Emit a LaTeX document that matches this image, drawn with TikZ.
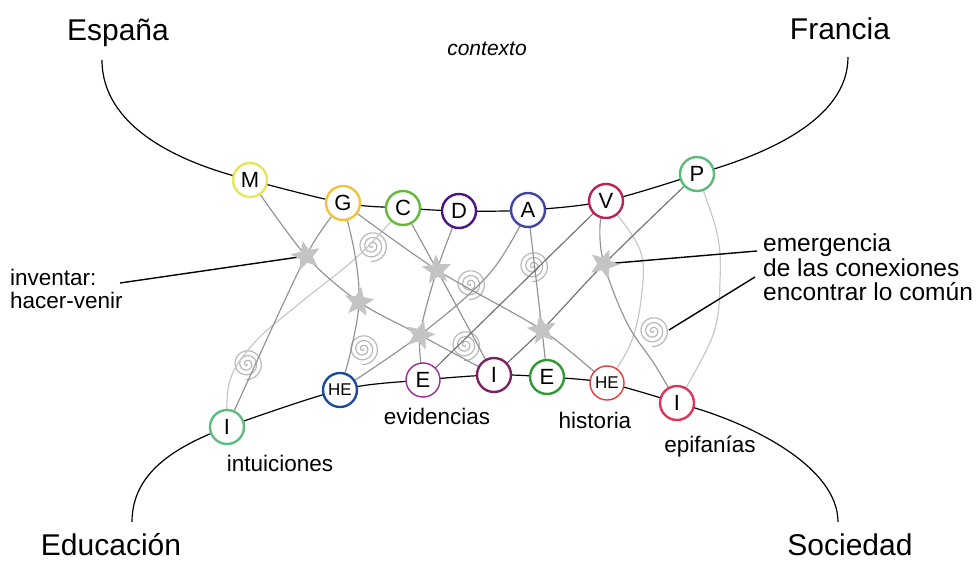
\documentclass[tikz,border=0pt]{standalone}
\usepackage{fontspec}
\setmainfont{Liberation Sans}
\usetikzlibrary{shapes.geometric}
\pgfdeclarelayer{bg}
\pgfsetlayers{bg,main}
\definecolor{cM}{HTML}{E6E65A}
\definecolor{cG}{HTML}{F2C23C}
\definecolor{cC}{HTML}{66B83A}
\definecolor{cD}{HTML}{4A1486}
\definecolor{cA}{HTML}{4444A4}
\definecolor{cV}{HTML}{B82458}
\definecolor{cP}{HTML}{5CBA7A}
\definecolor{cIa}{HTML}{5FBC82}
\definecolor{cHEa}{HTML}{1C4A9C}
\definecolor{cEa}{HTML}{9A2C9A}
\definecolor{cIb}{HTML}{7C2262}
\definecolor{cEb}{HTML}{2F9A32}
\definecolor{cHEb}{HTML}{E53A3A}
\definecolor{cIc}{HTML}{E0345C}
\definecolor{linkgray}{HTML}{929292}
\definecolor{darklink}{HTML}{727272}
\definecolor{faintgray}{HTML}{C6C6C6}
\definecolor{stargray}{HTML}{C4C4C4}
\definecolor{spiralgray}{HTML}{B8B8B8}
\begin{document}
\begin{tikzpicture}[x=1pt,y=-1pt,
  circ/.style={circle, draw, line width=2.4pt, fill=white, minimum size=34pt, inner sep=0pt, font=\fontsize{22}{22}\selectfont},
  circthin/.style={circ, line width=1.4pt},
  hetext/.style={font=\fontsize{17}{17}\selectfont},
  starnode/.style={star, star points=5, star point ratio=2.3, fill=stargray, draw=none, minimum size=31pt, inner sep=0pt},
  link/.style={draw=linkgray, line width=1.15pt},
  darkline/.style={draw=darklink, line width=1.15pt},
  faint/.style={draw=faintgray, line width=1.15pt},
  arcline/.style={draw=black, line width=1.2pt},
  ptr/.style={draw=black, line width=1.4pt},
  spiralline/.style={draw=spiralgray, line width=1.2pt},
  lbl/.style={font=\fontsize{22.5}{23}\selectfont, inner sep=0pt},
  rlbl/.style={font=\fontsize{24.5}{24.5}\selectfont, inner sep=0pt},
  big/.style={font=\fontsize{30}{30}\selectfont, inner sep=0pt},
]
\useasboundingbox (0,0) rectangle (978,562);

% coordinates
\coordinate (esp) at (102,60);
\coordinate (fra) at (848,57);
\coordinate (edu) at (132,522);
\coordinate (soc) at (838,522);
\coordinate (ptrA) at (120,283);
\coordinate (ptrB) at (757,251);
\coordinate (ptrC) at (755,277);
\coordinate (sp1) at (372,246);
\coordinate (sp2) at (470,284);
\coordinate (sp3) at (533,266);
\coordinate (sp4) at (363,349);
\coordinate (sp5) at (465,345);
\coordinate (sp6) at (247,364);
\coordinate (sp7) at (653,331);
\coordinate (sp7e) at (669,330);

% top nodes
\node[circ, draw=cM] (M) at (250,180) {M};
\node[circ, draw=cG] (G) at (343,203) {G};
\node[circ, draw=cC] (C) at (403,208) {C};
\node[circ, draw=cD] (D) at (459,211) {D};
\node[circ, draw=cA] (A) at (528,210) {A};
\node[circ, draw=cV] (V) at (606,201) {V};
\node[circ, draw=cP] (P) at (697,174) {P};
% bottom nodes
\node[circ, draw=cIa] (Ia) at (227,427) {I};
\node[circ, draw=cHEa, hetext] (HEa) at (340,390) {HE};
\node[circthin, draw=cEa] (Ea) at (423,380) {E};
\node[circ, draw=cIb] (Ib) at (494,375) {I};
\node[circ, draw=cEb] (Eb) at (547,377) {E};
\node[circthin, draw=cHEb, hetext] (HEb) at (607,383) {HE};
\node[circ, draw=cIc] (Ic) at (677,403) {I};

% stars
\node[starnode, rotate=12] (S1) at (306,256) {};
\node[starnode, rotate=-8] (S2) at (359,302) {};
\node[starnode, rotate=5] (S3) at (437,270) {};
\node[starnode, rotate=-15] (S4) at (420,335) {};
\node[starnode, rotate=10] (S5) at (542,330) {};
\node[starnode, rotate=-20] (S6) at (604,264) {};

\begin{pgfonlayer}{bg}
  % spirals
  \foreach \p in {sp1,sp2,sp3,sp4,sp5,sp6,sp7} {
    \draw[spiralline, shift={(\p)}] plot[domain=0.3:20.5, samples=170, smooth] ({0.76*\x*cos(\x r)}, {0.76*\x*sin(\x r)});
  }
  % faint curves
  \draw[faint] plot[smooth, tension=0.6] coordinates {(C.center) (357,257) (300,303) (255,342) (230,380) (Ia.center)};
  \draw[faint] plot[smooth, tension=0.6] coordinates {(V.center) (640,250) (641,300) (630,345) (HEb.center)};
  \draw[faint] plot[smooth, tension=0.6] coordinates {(P.center) (717,233) (720,280) (713,335) (Ic.center)};
  % gray links
  \draw[link] plot[smooth, tension=0.5] coordinates {(M.center) (S1.center) (S2.center) (S4.center) (Ib.center)};
  \draw[link] plot[smooth, tension=0.5] coordinates {(G.center) (S1.center) (Ia.center)};
  \draw[link] plot[smooth, tension=0.6] coordinates {(G.center) (355,255) (S2.center) (351,350) (HEa.center)};
  \draw[link] plot[smooth, tension=0.5] coordinates {(G.center) (S3.center) (S5.center) (HEb.center)};
  \draw[link] plot[smooth, tension=0.5] coordinates {(C.center) (S3.center) (Ib.center)};
  \draw[link] plot[smooth, tension=0.5] coordinates {(D.center) (S3.center) (S4.center) (Ea.center)};
  \draw[link] plot[smooth, tension=0.6] coordinates {(HEa.center) (S4.center) (490,273) (A.center)};
  \draw[link] plot[smooth, tension=0.5] coordinates {(A.center) (S5.center) (Eb.center)};
  \draw[link] plot[smooth, tension=0.6] coordinates {(V.center) (600,225) (S6.center) (627,323) (655,365) (Ic.center)};
  \draw[darkline] (Ea.center) -- (V.center);
  \draw[darkline] plot[smooth, tension=0.5] coordinates {(Ib.center) (S5.center) (S6.center) (P.center)};
  % black arcs
  \draw[arcline] (esp) .. controls (102,125) and (175,162) .. (M.center);
  \draw[arcline] plot[smooth, tension=0.55] coordinates {(M.center) (G.center) (C.center) (D.center) (A.center) (V.center) (P.center)};
  \draw[arcline] (P.center) .. controls (765,155) and (848,120) .. (fra);
  \draw[arcline] (edu) .. controls (132,470) and (180,445) .. (Ia.center);
  \draw[arcline] plot[smooth, tension=0.55] coordinates {(Ia.center) (HEa.center) (Ea.center) (Ib.center) (Eb.center) (HEb.center) (Ic.center)};
  \draw[arcline] (Ic.center) .. controls (745,420) and (838,465) .. (soc);
  % pointers
  \draw[ptr] (ptrA) -- (S1.center);
  \draw[ptr] (ptrB) -- (S6.center);
  \draw[ptr] (ptrC) -- (sp7e);
\end{pgfonlayer}

% texts
\node[big, anchor=base] (tEsp) at (118,40) {España};
\node[big, anchor=base] (tFra) at (840,39) {Francia};
\node[font=\fontsize{21}{21}\selectfont\itshape, inner sep=0pt, anchor=base] (tCtx) at (487,55) {contexto};
\node[big, anchor=base] (tEdu) at (111,555) {Educación};
\node[big, anchor=base] (tSoc) at (850,555) {Sociedad};
\node[lbl, anchor=base] (tIntu) at (280,471) {intuiciones};
\node[lbl, anchor=base] (tEvid) at (437,424) {evidencias};
\node[lbl, anchor=base] (tHist) at (595,428) {historia};
\node[lbl, anchor=base] (tEpif) at (710,452) {epifanías};
\node[lbl, anchor=north west, align=left] (tInv) at (10,269) {inventar:\\hacer-venir};
\node[rlbl, anchor=north west, align=left] (tEmer) at (763,234) {emergencia\\de las conexiones\\encontrar lo común};
\end{tikzpicture}
\end{document}
